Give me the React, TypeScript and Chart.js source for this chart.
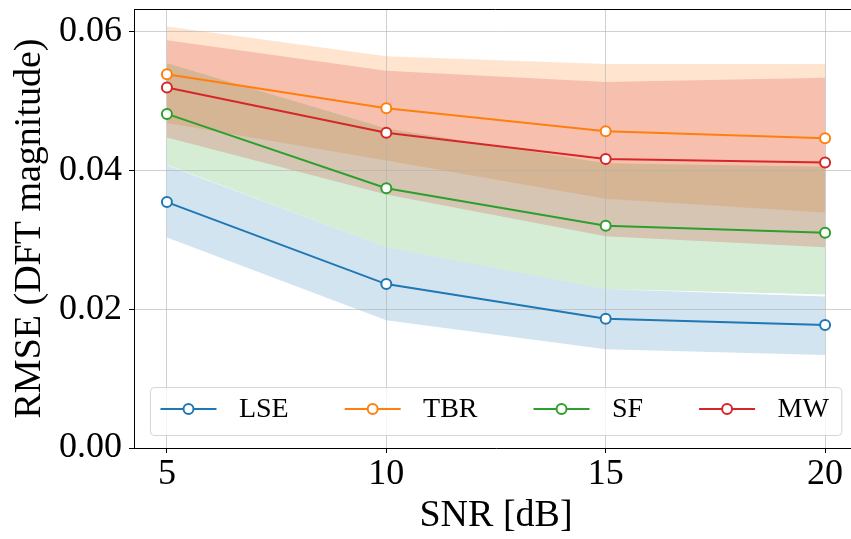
import React, { useEffect, useRef } from 'react';
import { Chart, registerables } from 'chart.js';
Chart.register(...registerables);

// ---- data ----
const snr = [5, 10, 15, 20];
const xTicks = [5, 10, 15, 20];
const yTicks = [0, 0.02, 0.04, 0.06];
const methods = ['LSE', 'TBR', 'SF', 'MW'];
const colors = ['#1f77b4', '#ff7f0e', '#2ca02c', '#d62728'];
const bandColors = [
  'rgba(31,119,180,0.2)',
  'rgba(255,127,14,0.2)',
  'rgba(44,160,44,0.2)',
  'rgba(214,39,40,0.2)',
];

const lseMean = [0.0354, 0.0236, 0.0186, 0.0177];
const lseUpper = [0.0407, 0.0289, 0.0229, 0.0218];
const lseLower = [0.0303, 0.0184, 0.0142, 0.0134];

const tbrMean = [0.0538, 0.0489, 0.0456, 0.0446];
const tbrUpper = [0.0607, 0.0564, 0.0553, 0.0553];
const tbrLower = [0.0468, 0.0414, 0.0359, 0.0339];

const sfMean = [0.0481, 0.0374, 0.032, 0.031];
const sfUpper = [0.0554, 0.046, 0.041, 0.0405];
const sfLower = [0.0408, 0.0289, 0.0229, 0.0221];

const mwMean = [0.0519, 0.0454, 0.0416, 0.0411];
const mwUpper = [0.0587, 0.0543, 0.0527, 0.0533];
const mwLower = [0.0447, 0.0365, 0.0305, 0.0289];

const means = [lseMean, tbrMean, sfMean, mwMean];
const uppers = [lseUpper, tbrUpper, sfUpper, mwUpper];
const lowers = [lseLower, tbrLower, sfLower, mwLower];

const FAMILY = '"Liberation Serif", "Times New Roman", serif';
const GRID = 'rgba(176,176,176,0.6)';

const pts = (arr: number[]) => snr.map((x, i) => ({ x, y: arr[i] }));

function buildDatasets() {
  const ds: any[] = [];
  // lines: first in array is drawn last (on top) -> MW first
  for (let k = methods.length - 1; k >= 0; k--) {
    ds.push({
      label: methods[k],
      data: pts(means[k]),
      borderColor: colors[k],
      borderWidth: 2,
      pointRadius: 5,
      pointBorderWidth: 2,
      pointBackgroundColor: '#ffffff',
      pointBorderColor: colors[k],
      fill: false,
      tension: 0,
    });
  }
  // bands: last in array drawn first -> MW band first in array
  for (let k = methods.length - 1; k >= 0; k--) {
    ds.push({
      label: methods[k] + ' upper',
      data: pts(uppers[k]),
      borderColor: 'rgba(0,0,0,0)',
      borderWidth: 1,
      pointRadius: 0,
      backgroundColor: bandColors[k],
      fill: '+1',
      tension: 0,
    });
    ds.push({
      label: methods[k] + ' lower',
      data: pts(lowers[k]),
      borderColor: 'rgba(0,0,0,0)',
      borderWidth: 1,
      pointRadius: 0,
      fill: false,
      tension: 0,
    });
  }
  return ds;
}

const framePlugin = {
  id: 'frame',
  afterDatasetsDraw(chart: any) {
    const { ctx, chartArea } = chart;
    ctx.save();
    ctx.strokeStyle = '#000';
    ctx.lineWidth = 1;
    ctx.beginPath();
    const t = Math.round(chartArea.top) + 0.5;
    const r = Math.round(chartArea.right) - 0.5;
    ctx.moveTo(chartArea.left, t);
    ctx.lineTo(r, t);
    ctx.lineTo(r, chartArea.bottom);
    ctx.stroke();
    ctx.restore();
  },
};

const legendPlugin = {
  id: 'mplLegend',
  afterDraw(chart: any) {
    const { ctx, chartArea } = chart;
    const fs = 28;
    ctx.save();
    ctx.font = `${fs}px ${FAMILY}`;
    const handle = 2 * fs;
    const textPad = 0.8 * fs;
    const colSp = 2 * fs;
    const widths = methods.map((m) => ctx.measureText(m).width);
    let content = 0;
    widths.forEach((w, i) => {
      content += handle + textPad + w + (i < widths.length - 1 ? colSp : 0);
    });
    const padL = 10;
    const padR = 13;
    const boxW = content + padL + padR;
    const boxH = 48;
    const cx = (chartArea.left + chartArea.right) / 2;
    const left = Math.round(cx - boxW / 2) + 0.5;
    const bottom = chartArea.bottom - 13;
    const top = Math.round(bottom - boxH) + 0.5;
    const rad = 4;
    ctx.beginPath();
    ctx.moveTo(left + rad, top);
    ctx.lineTo(left + boxW - rad, top);
    ctx.quadraticCurveTo(left + boxW, top, left + boxW, top + rad);
    ctx.lineTo(left + boxW, top + boxH - rad);
    ctx.quadraticCurveTo(left + boxW, top + boxH, left + boxW - rad, top + boxH);
    ctx.lineTo(left + rad, top + boxH);
    ctx.quadraticCurveTo(left, top + boxH, left, top + boxH - rad);
    ctx.lineTo(left, top + rad);
    ctx.quadraticCurveTo(left, top, left + rad, top);
    ctx.closePath();
    ctx.fillStyle = 'rgba(255,255,255,0.8)';
    ctx.fill();
    ctx.strokeStyle = 'rgba(204,204,204,0.8)';
    ctx.lineWidth = 1;
    ctx.stroke();

    const cy = top + 21.5;
    let x = left + padL;
    methods.forEach((m, i) => {
      ctx.strokeStyle = colors[i];
      ctx.lineWidth = 2;
      ctx.beginPath();
      ctx.moveTo(x, cy);
      ctx.lineTo(x + handle, cy);
      ctx.stroke();
      ctx.beginPath();
      ctx.arc(x + handle / 2, cy, 5, 0, Math.PI * 2);
      ctx.fillStyle = '#fff';
      ctx.fill();
      ctx.stroke();
      ctx.fillStyle = '#000';
      ctx.textBaseline = 'middle';
      ctx.textAlign = 'left';
      ctx.fillText(m, x + handle + textPad, cy + 1);
      x += handle + textPad + widths[i] + colSp;
    });
    ctx.restore();
  },
};

export default function App() {
  const ref = useRef<HTMLCanvasElement>(null);
  useEffect(() => {
    const chart = new Chart(ref.current as HTMLCanvasElement, {
      type: 'line',
      data: { datasets: buildDatasets() },
      plugins: [framePlugin, legendPlugin],
      options: {
        animation: false,
        responsive: false,
        devicePixelRatio: 1,
        layout: { padding: { top: 9, right: 8, left: 0, bottom: 0 } },
        plugins: {
          legend: { display: false },
          tooltip: { enabled: false },
          filler: { drawTime: 'beforeDraw' },
        },
        scales: {
          x: {
            type: 'linear',
            min: 4.25,
            max: 20.75,
            afterBuildTicks: (s: any) => {
              s.ticks = xTicks.map((v) => ({ value: v }));
            },
            afterFit: (s: any) => {
              s.height = 91;
              s.paddingLeft = 0;
              s.paddingRight = 0;
            },
            ticks: {
              color: '#000',
              padding: 0,
              maxRotation: 0,
              font: { family: FAMILY, size: 36 },
              callback: (v: any) => String(v),
            },
            grid: {
              color: GRID,
              lineWidth: 1,
              tickLength: 5,
              tickColor: '#000',
              tickWidth: 1,
            },
            border: { color: '#000', width: 1 },
            title: {
              display: true,
              text: 'SNR [dB]',
              color: '#000',
              font: { family: FAMILY, size: 38 },
              padding: { top: 0, bottom: 0 },
            },
          },
          y: {
            type: 'linear',
            min: 0,
            max: 0.0632,
            afterBuildTicks: (s: any) => {
              s.ticks = yTicks.map((v) => ({ value: v }));
            },
            afterFit: (s: any) => {
              s.width = 134;
              s.paddingTop = 0;
              s.paddingBottom = 0;
            },
            ticks: {
              color: '#000',
              padding: 7,
              font: { family: FAMILY, size: 36 },
              callback: (v: any) => Number(v).toFixed(2),
            },
            grid: {
              color: GRID,
              lineWidth: 1,
              tickLength: 5,
              tickColor: '#000',
              tickWidth: 1,
            },
            border: { color: '#000', width: 1 },
            title: {
              display: true,
              text: 'RMSE (DFT magnitude)',
              color: '#000',
              font: { family: FAMILY, size: 38 },
              padding: { top: 7, bottom: 0 },
            },
          },
        },
      } as any,
    });
    return () => chart.destroy();
  }, []);
  return (
    <div
      style={{
        position: 'fixed',
        left: 0,
        top: 0,
        width: 851,
        height: 539,
        overflow: 'hidden',
        background: '#fff',
      }}
    >
      <div style={{ width: 866, height: 539 }}>
        <canvas ref={ref} width={866} height={539} style={{ display: 'block' }} />
      </div>
    </div>
  );
}
